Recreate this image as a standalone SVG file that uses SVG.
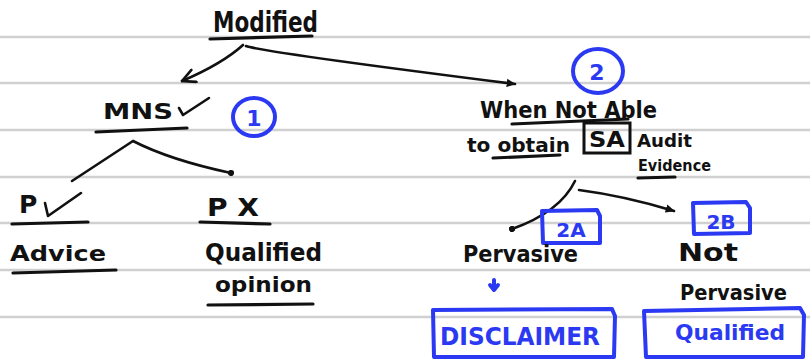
<svg xmlns="http://www.w3.org/2000/svg" width="810" height="360" viewBox="0 0 810 360">
  <style>
    .rule { stroke: #d0d0d0; stroke-width: 2.5; }
    .ink { font-family: "DejaVu Sans", "Liberation Sans", sans-serif; font-weight: bold; fill: #111; }
    .blue { font-family: "DejaVu Sans", "Liberation Sans", sans-serif; font-weight: bold; fill: #2b3af2; }
    .line { fill: none; stroke: #111; stroke-width: 2.6; stroke-linecap: round; stroke-linejoin: round; }
    .under { fill: none; stroke: #111; stroke-width: 3.2; stroke-linecap: round; }
    .bline { fill: none; stroke: #2b3af2; stroke-width: 4; stroke-linecap: round; stroke-linejoin: round; }
  </style>
  <defs>
    <marker id="chevron" viewBox="0 0 12 12" refX="11" refY="6" markerWidth="6" markerHeight="6" orient="auto" markerUnits="strokeWidth">
      <path d="M1,1 L11,6 L1,11" fill="none" stroke="#111" stroke-width="2" stroke-linecap="round"/>
    </marker>
    <marker id="tip" viewBox="0 0 10 10" refX="8" refY="5" markerWidth="4" markerHeight="4" orient="auto" markerUnits="strokeWidth">
      <path d="M0,1 L9,5 L0,9 Z" fill="#111"/>
    </marker>
    <marker id="dot" viewBox="0 0 10 10" refX="5" refY="5" markerWidth="2.4" markerHeight="2.4" orient="auto" markerUnits="strokeWidth">
      <circle cx="5" cy="5" r="5" fill="#111"/>
    </marker>
  </defs>

  <rect width="810" height="360" fill="#ffffff"/>

  <!-- ruled paper -->
  <g id="paper">
    <line class="rule" x1="0" y1="37" x2="810" y2="37"/>
    <line class="rule" x1="0" y1="83" x2="810" y2="83"/>
    <line class="rule" x1="0" y1="130" x2="810" y2="130"/>
    <line class="rule" x1="0" y1="177" x2="810" y2="177"/>
    <line class="rule" x1="0" y1="223" x2="810" y2="223"/>
    <line class="rule" x1="0" y1="270" x2="810" y2="270"/>
    <line class="rule" x1="0" y1="317" x2="810" y2="317"/>
  </g>

  <!-- branches -->
  <g id="connectors">
    <path class="line" d="M243,45 Q222,64 182,81" marker-end="url(#chevron)"/>
    <path class="line" d="M246,46 Q262,52 515,84" marker-end="url(#tip)"/>
    <path class="line" d="M133,141 L72,181"/>
    <path class="line" d="M133,141 Q170,160 231,173" marker-end="url(#dot)"/>
    <path class="line" d="M575,181 Q560,212 512,229" marker-end="url(#dot)"/>
    <path class="line" d="M579,190 Q625,196 674,211" marker-end="url(#tip)"/>
    <path class="bline" d="M494,280 L494,289 M490,285 L494,290 L498,285" stroke-width="3.5"/>
  </g>

  <g id="modified">
    <text class="ink" x="213" y="32" font-size="28" textLength="105" lengthAdjust="spacingAndGlyphs">Modified</text>
    <path class="under" d="M210,39 L312,36"/>
  </g>

  <g id="mns">
    <text class="ink" x="103" y="119" font-size="21" textLength="70" lengthAdjust="spacingAndGlyphs">MNS</text>
    <path class="line" d="M179,108 L183,115 L209,98" stroke-width="4"/>
    <path class="under" d="M96,132 L187,128"/>
  </g>

  <g id="badge-1">
    <ellipse cx="254" cy="117" rx="21" ry="19" fill="none" stroke="#2b3af2" stroke-width="4"/>
    <text class="blue" x="254" y="126" font-size="22" text-anchor="middle">1</text>
  </g>

  <g id="p-yes">
    <text class="ink" x="19" y="213" font-size="25">P</text>
    <path class="line" d="M45,203 L48,216 L81,193" stroke-width="6"/>
    <path class="under" d="M12,224 L88,222"/>
  </g>

  <g id="advice">
    <text class="ink" x="10" y="261" font-size="22" textLength="96" lengthAdjust="spacingAndGlyphs">Advice</text>
    <path class="under" d="M13,273 L116,270"/>
  </g>

  <g id="p-no">
    <text class="ink" x="207" y="216" font-size="25" textLength="52" lengthAdjust="spacingAndGlyphs">P X</text>
    <path class="under" d="M200,222 L270,224"/>
  </g>

  <g id="qualified-opinion">
    <text class="ink" x="205" y="261" font-size="25" textLength="117" lengthAdjust="spacingAndGlyphs">Qualified</text>
    <text class="ink" x="215" y="292" font-size="22" textLength="97" lengthAdjust="spacingAndGlyphs">opinion</text>
    <path class="under" d="M208,305 L313,304"/>
  </g>

  <g id="badge-2">
    <ellipse cx="598" cy="71" rx="25" ry="22" fill="none" stroke="#2b3af2" stroke-width="4"/>
    <text class="blue" x="597" y="80" font-size="22" text-anchor="middle">2</text>
  </g>

  <g id="not-able">
    <text class="ink" x="480" y="118" font-size="23" textLength="177" lengthAdjust="spacingAndGlyphs">When Not Able</text>
    <path class="under" d="M512,124 L628,119" stroke-width="2.4"/>
    <text class="ink" x="467" y="152" font-size="20" textLength="103" lengthAdjust="spacingAndGlyphs">to obtain</text>
    <path class="under" d="M493,158 L560,155"/>
    <rect x="584" y="123" width="46" height="30" fill="none" stroke="#111" stroke-width="3"/>
    <text class="ink" x="589" y="147" font-size="21" textLength="36" lengthAdjust="spacingAndGlyphs">SA</text>
    <text class="ink" x="637" y="147" font-size="17" textLength="55" lengthAdjust="spacingAndGlyphs">Audit</text>
    <text class="ink" x="638" y="171" font-size="15" textLength="73" lengthAdjust="spacingAndGlyphs">Evidence</text>
    <path class="under" d="M638,178 L675,177"/>
  </g>

  <g id="badge-2a">
    <path class="bline" d="M542,211 L597,210 L600,216 L600,243 L543,243 Z" stroke-width="3.5"/>
    <text class="blue" x="571" y="237" font-size="20" text-anchor="middle">2A</text>
  </g>

  <g id="badge-2b">
    <path class="bline" d="M693,203 L746,202 L750,208 L750,233 L694,234 Z" stroke-width="3.5"/>
    <text class="blue" x="721" y="229" font-size="20" text-anchor="middle">2B</text>
  </g>

  <g id="pervasive">
    <text class="ink" x="463" y="262" font-size="23" textLength="115" lengthAdjust="spacingAndGlyphs">Pervasive</text>
  </g>

  <g id="not-pervasive">
    <text class="ink" x="678" y="261" font-size="24" textLength="60" lengthAdjust="spacingAndGlyphs">Not</text>
    <text class="ink" x="680" y="300" font-size="21" textLength="107" lengthAdjust="spacingAndGlyphs">Pervasive</text>
  </g>

  <g id="disclaimer">
    <path class="bline" d="M433,310 L612,309 L615,316 L614,357 L434,357 Z"/>
    <text class="blue" x="440" y="345" font-size="24" textLength="160" lengthAdjust="spacingAndGlyphs">DISCLAIMER</text>
  </g>

  <g id="qualified">
    <path class="bline" d="M644,311 L800,308 L804,315 L803,357 L646,357 Z"/>
    <text class="blue" x="675" y="340" font-size="22" textLength="110" lengthAdjust="spacingAndGlyphs">Qualified</text>
  </g>
</svg>
